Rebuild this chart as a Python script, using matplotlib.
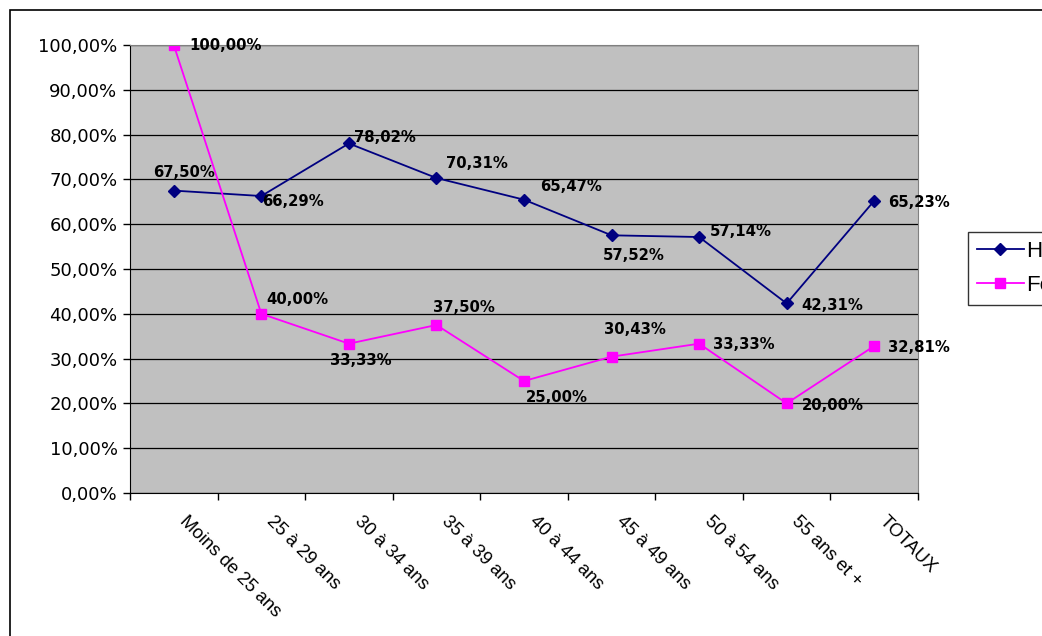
import matplotlib
matplotlib.use("Agg")
import matplotlib.pyplot as plt
import matplotlib.transforms as mtransforms
from matplotlib.patches import Rectangle
import numpy as np

categories = ["Moins de 25 ans", "25 à 29 ans", "30 à 34 ans", "35 à 39 ans",
              "40 à 44 ans", "45 à 49 ans", "50 à 54 ans", "55 ans et +", "TOTAUX"]
hommes = [67.50, 66.29, 78.02, 70.31, 65.47, 57.52, 57.14, 42.31, 65.23]
femmes = [100.00, 40.00, 33.33, 37.50, 25.00, 30.43, 33.33, 20.00, 32.81]

# label offsets in pixels (dx right, dy up) from each point
hommes_off = [(-21, 18), (1, -5), (5, 6), (10, 15), (16, 13), (-9, -20), (11, 6), (15, -2), (14, -2)]
femmes_off = [(16, -1), (5, 14), (-19, -17), (-3, 17), (2, -16), (-8, 27), (14, -1), (15, -2), (14, -1)]

W, H = 1042, 636
fig = plt.figure(figsize=(W / 100, H / 100), dpi=100)
fig.patch.set_facecolor("white")
ax = fig.add_axes([130 / W, (H - 493) / H, (918 - 130) / W, (493 - 45) / H])
ax.set_facecolor("#C0C0C0")

# outer chart border
fig.patches.append(Rectangle((10 / W, -0.1), 1.2, (H - 10) / H + 0.1, transform=fig.transFigure,
                             fill=False, edgecolor="black", linewidth=1.2))

n = len(categories)
x = np.arange(n) + 0.5
ax.set_xlim(0, n)
ax.set_ylim(0, 100)

ax.yaxis.grid(True, color="black", linewidth=0.9)
ax.set_axisbelow(True)

ax.plot(x, hommes, color="#000080", marker="D", markersize=6.5, linewidth=1.3, label="Hommes")
ax.plot(x, femmes, color="#FF00FF", marker="s", markersize=6.5, linewidth=1.3, label="Femmes")

def fmt(v):
    return ("%.2f" % v).replace(".", ",") + "%"

for xi, v, (dx, dy) in zip(x, hommes, hommes_off):
    ax.annotate(fmt(v), (xi, v), xytext=(dx, dy), textcoords="offset pixels",
                ha="left", va="center", fontsize=10.7, fontweight="bold", family="DejaVu Sans")
for xi, v, (dx, dy) in zip(x, femmes, femmes_off):
    ax.annotate(fmt(v), (xi, v), xytext=(dx, dy), textcoords="offset pixels",
                ha="left", va="center", fontsize=10.7, fontweight="bold", family="DejaVu Sans")

ax.set_yticks(np.arange(0, 101, 10))
ax.set_yticklabels([("%.2f" % t).replace(".", ",") + "%" for t in np.arange(0, 101, 10)],
                   fontsize=13, family="DejaVu Sans")
ax.tick_params(axis="y", direction="out", length=5, width=1, pad=4)

ax.set_xticks(np.arange(n + 1))
ax.set_xticklabels([])
ax.tick_params(axis="x", which="major", direction="out", length=5, width=1)
ax.set_xticks(x, minor=True)
ax.set_xticklabels(categories, minor=True, rotation=-45, ha="left", va="top",
                   rotation_mode="anchor", fontsize=13.3, family="Liberation Sans")
ax.tick_params(axis="x", which="minor", length=0, pad=14)
shift = mtransforms.ScaledTranslation(14 / 100, 0, fig.dpi_scale_trans)
for lab in ax.get_xticklabels(minor=True):
    lab.set_transform(lab.get_transform() + shift)

for s in ["top", "right"]:
    ax.spines[s].set_color("#808080")
for s in ["left", "bottom"]:
    ax.spines[s].set_color("black")

leg = ax.legend(loc="upper left", bbox_to_anchor=(968 / W, (H - 232) / H),
                bbox_transform=fig.transFigure, frameon=True, fancybox=False,
                edgecolor="black", prop={"family": "Liberation Sans", "size": 16},
                handlelength=2.1, handletextpad=0.1, labelspacing=0.6, borderpad=0.4,
                borderaxespad=0)
leg.get_frame().set_linewidth(1)

fig.savefig("out.png", dpi=100)
